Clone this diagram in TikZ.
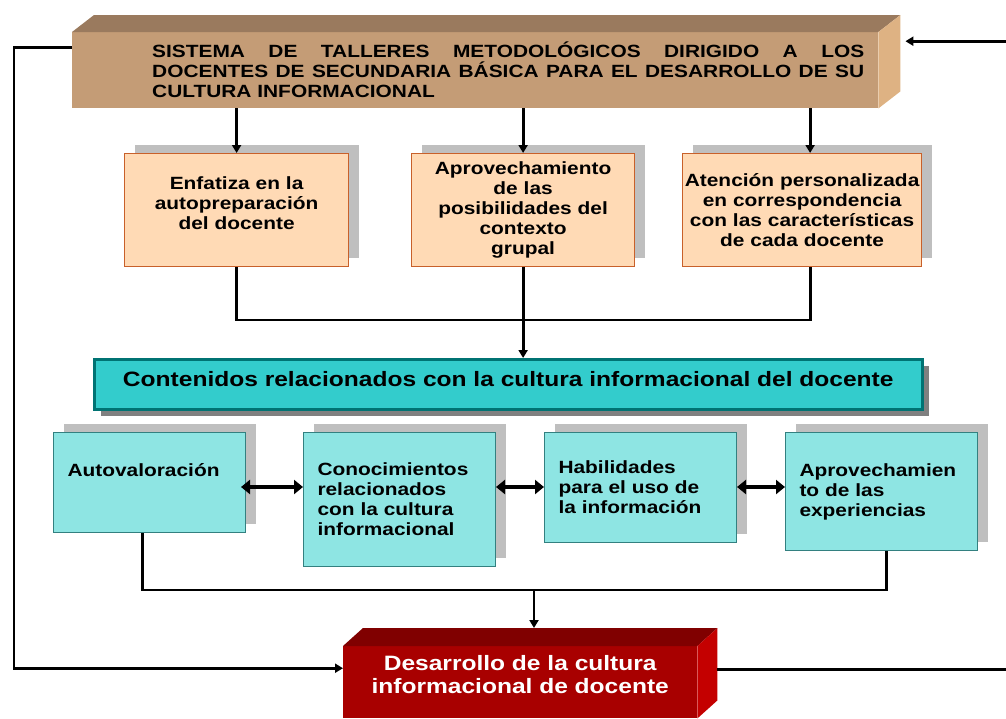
\documentclass[tikz,border=0pt]{standalone}
\usepackage{fontspec}
\setsansfont[FakeStretch=1.18]{Liberation Sans}
\usepackage{tikz}
\usetikzlibrary{arrows.meta}
\usetikzlibrary{shadows}
\definecolor{tanfront}{HTML}{C49C76}
\definecolor{tantop}{HTML}{9A7A5E}
\definecolor{tanside}{HTML}{DEB283}
\definecolor{peach}{HTML}{FFDAB5}
\definecolor{peachline}{HTML}{C8602A}
\definecolor{shadowgray}{HTML}{BFBFBF}
\definecolor{darkshadow}{HTML}{808080}
\definecolor{tealband}{HTML}{33CCCC}
\definecolor{tealline}{HTML}{007373}
\definecolor{cyanbox}{HTML}{8EE5E3}
\definecolor{cyanline}{HTML}{338080}
\definecolor{redfront}{HTML}{A80000}
\definecolor{redtop}{HTML}{800000}
\definecolor{redside}{HTML}{C40000}
\tikzset{
  smallfont/.style = {font=\sffamily\bfseries\fontsize{17.7pt}{20pt}\selectfont},
  bigfont/.style = {font=\sffamily\bfseries\fontsize{20.8pt}{23pt}\selectfont},
  box_t/.style = {smallfont, anchor=north west, fill=tanfront, inner ysep=0pt,
    inner xsep=14pt, minimum width=806pt, minimum height=76pt, text depth=42pt},% taller, caja superior
  box_o/.style = {smallfont, anchor=north west, fill=peach, draw=peachline,
    line width=1.2pt, inner xsep=1pt, inner ysep=0pt, minimum height=113pt,
    align=center, drop shadow={shadow xshift=10pt, shadow yshift=9pt,
    fill=shadowgray, opacity=1}},% principio, caja naranja
  box_b/.style = {bigfont, anchor=north west, fill=tealband, draw=tealline,
    line width=2.5pt, minimum width=828pt, minimum height=50pt, text depth=11pt,
    drop shadow={shadow xshift=7pt, shadow yshift=-7pt, fill=darkshadow,
    opacity=1}},% contenidos, banda
  box_c/.style = {smallfont, anchor=north west, fill=cyanbox, draw=cyanline,
    line width=1pt, inner xsep=14pt, inner ysep=0pt, text width=164pt,
    align=left, drop shadow={shadow xshift=10pt, shadow yshift=9pt,
    fill=shadowgray, opacity=1}},% contenido, caja celeste
  box_r/.style = {bigfont, anchor=north west, fill=redfront, text=white,
    minimum width=354pt, minimum height=72pt, inner sep=0pt, align=center,
    text depth=15pt},% resultado, caja roja
  line/.style = {line width=2.8pt},
  arr/.style = {line, ->},
  dbl/.style = {line width=4.5pt, {Triangle[length=9pt,width=14pt]}-{Triangle[length=9pt,width=14pt]}}
}
\begin{document}
\begin{tikzpicture}[x=1pt,y=-1pt,>={Triangle[length=8pt,width=9pt]}]
\path[use as bounding box] (0,0) rectangle (1006,718);
\clip (0,0) rectangle (1006,718);

\node[box_t] (title) at (72,32) {\hspace*{66pt}\parbox[t]{712pt}{SISTEMA DE TALLERES METODOLÓGICOS DIRIGIDO A LOS\linebreak
  DOCENTES DE SECUNDARIA BÁSICA PARA EL DESARROLLO DE SU\linebreak CULTURA INFORMACIONAL}};
\fill[tantop] (title.north west) -- ++(22,-17) -- ([shift={(22,-17)}]title.north east) -- (title.north east) -- cycle;
\fill[tanside] (title.north east) -- ++(22,-17) -- ([shift={(22,-17)}]title.south east) -- (title.south east) -- cycle;

\node[box_o, text width=222pt, text depth=54pt] (o1) at (124,153) {Enfatiza en la\\autopreparación\\del docente};
\node[box_o, text width=221pt] (o2) at (411,153) {Aprovechamiento\\de las\\posibilidades del\\contexto\\grupal};
\node[box_o, text width=237pt] (o3) at (682,153) {Atención personalizada\\en correspondencia\\con las características\\de cada docente};

\node[box_b] (cont) at (93,358) {Contenidos relacionados con la cultura informacional del docente};

\node[box_c, minimum height=100pt, text depth=24pt] (l1) at (53,432) {Autovaloración};
\node[box_c, minimum height=134pt] (l2) at (303,432) {Conocimientos\\relacionados\\con la cultura\\informacional};
\node[box_c, minimum height=110pt] (l3) at (544,432) {Habilidades\\para el uso de\\la información};
\node[box_c, minimum height=118pt] (l4) at (785,432) {Aprovechamien\\to de las\\experiencias};

\node[box_r] (dev) at (343,646) {Desarrollo de la cultura\\informacional de docente};
\fill[redtop] (dev.north west) -- ++(20,-18) -- ([shift={(20,-18)}]dev.north east) -- (dev.north east) -- cycle;
\fill[redside] (dev.north east) -- ++(20,-18) -- ([shift={(20,-18)}]dev.south east) -- (dev.south east) -- cycle;

% puntos de union
\coordinate (o3t) at ([xshift=8pt]o3.north);
\coordinate (o3b) at ([xshift=8pt]o3.south);
\coordinate (jo) at (522,320);
\coordinate (jl) at (534,590);
\coordinate (ay) at (0,487);
\coordinate (devtop) at ([yshift=18pt]dev.north);
\coordinate (lc) at (14,360);
\coordinate (rc) at (1040,360);

\draw[arr] (title.south -| o1.north) -- (o1.north);
\draw[arr] (title.south -| o2.north) -- (o2.north);
\draw[arr] (title.south -| o3t) -- (o3t);

\draw[line] (o1.south) |- (jo) -| (o3b);
\draw[arr] (o2.south) -- (o2.south |- cont.north);

\draw[dbl, shorten <=-5pt] (l1.east |- ay) -- (l2.west |- ay);
\draw[dbl] (l2.east |- ay) -- (l3.west |- ay);
\draw[dbl] (l3.east |- ay) -- (l4.west |- ay);

\draw[line] ([xshift=-7pt]l1.south) |- (jl) -| ([xshift=5pt]l4.south);
\draw[arr] (jl) -- (jl |- devtop);

% retroalimentacion
\draw[arr] ([yshift=23pt]title.west) -| (lc) |- ([yshift=14pt]dev.west);
\draw[arr] ([shift={(20,-13)}]dev.east) -| (rc) |- ([shift={(27,-29)}]title.east);
\end{tikzpicture}
\end{document}
